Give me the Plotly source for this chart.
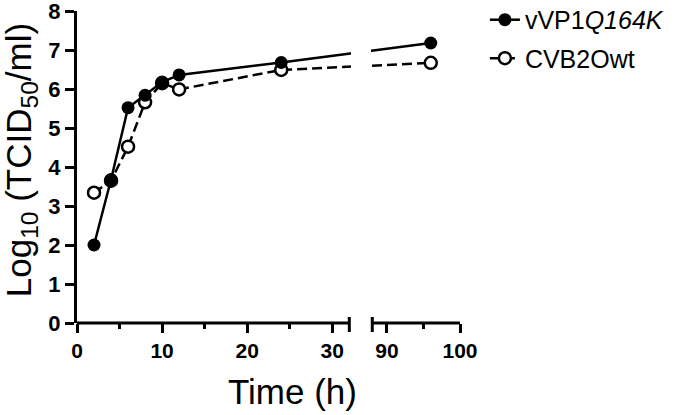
import plotly.graph_objects as go

# ---- data (hours, log10 TCID50/ml) ----
time_h = [2, 4, 6, 8, 10, 12, 24, 96]
mutant = [2.0, 3.68, 5.52, 5.84, 6.18, 6.36, 6.68, 7.18]
wildtype = [3.34, 3.65, 4.52, 5.66, 6.15, 5.99, 6.49, 6.67]
mutant_name = "vVP1<i>Q164K</i>"
wt_name = "CVB2Owt"
major_ticks = [0, 10, 20, 30, 90, 100]
minor_ticks = [5, 15, 25, 95]
y_ticks = list(range(0, 9))

# ---- broken axis mapping ----
SEG1_END = 32.0
SEG2_START = 88.0
SEG2_VIS = 34.7      # visual position where second segment starts
SEG2_SCALE = 0.859   # visual units per hour in second segment
X_MAX_VIS = SEG2_VIS + (100 - SEG2_START) * SEG2_SCALE


def xv(t):
    if t <= SEG1_END:
        return t
    return SEG2_VIS + (t - SEG2_START) * SEG2_SCALE


FONT = "Liberation Sans, Arial, sans-serif"

fig = go.Figure()
fig.add_trace(go.Scatter(
    x=[xv(t) for t in time_h], y=wildtype, name=wt_name, mode="lines+markers",
    line=dict(color="black", width=2.5, dash="10px,5px"),
    marker=dict(symbol="circle", size=12, color="white", line=dict(color="black", width=2.5)),
    cliponaxis=False, legendrank=2, legendgroup="wt"))
fig.add_trace(go.Scatter(
    x=[xv(t) for t in time_h], y=mutant, name=mutant_name, mode="lines+markers",
    line=dict(color="black", width=2.5),
    marker=dict(symbol="circle", size=13, color="black"),
    cliponaxis=False, legendrank=1, legendgroup="mut"))

shapes = []
# mask the gap of the break
shapes.append(dict(type="rect", xref="x", yref="paper", x0=SEG1_END + 0.2, x1=SEG2_VIS - 0.15,
                   y0=-0.01, y1=1.05, fillcolor="white", line=dict(width=0), layer="above"))
# x axis segments
for a, b in [(0, SEG1_END), (SEG2_VIS, X_MAX_VIS)]:
    shapes.append(dict(type="line", xref="x", yref="paper", x0=a, x1=b, y0=0, y1=0,
                       line=dict(color="black", width=3), layer="above"))
# caps at the break
for xc in [SEG1_END, SEG2_VIS]:
    shapes.append(dict(type="line", xref="x", yref="paper", ysizemode="pixel", yanchor=0,
                       x0=xc, x1=xc, y0=-9, y1=6, line=dict(color="black", width=3), layer="above"))

fig.update_layout(
    width=700, height=415,
    margin=dict(l=77, r=240, t=11, b=92, autoexpand=False),
    paper_bgcolor="white", plot_bgcolor="white",
    font=dict(family=FONT, color="black"),
    shapes=shapes,
    showlegend=True,
    legend=dict(x=1.065, y=1.045, xanchor="left", yanchor="top",
                font=dict(size=25, family=FONT, color="black"),
                bgcolor="rgba(0,0,0,0)", tracegroupgap=3),
    xaxis=dict(range=[0, X_MAX_VIS], showgrid=False, zeroline=False, showline=False,
               tickmode="array", tickvals=[xv(t) for t in major_ticks],
               ticktext=[str(t) for t in major_ticks],
               ticks="outside", ticklen=9, tickwidth=3, tickcolor="black",
               ticklabeloverflow="allow",
               tickfont=dict(size=21, family=FONT, weight="bold"),
               minor=dict(tickmode="array", tickvals=[xv(t) for t in minor_ticks],
                          ticks="outside", ticklen=5, tickwidth=3, tickcolor="black", showgrid=False)),
    yaxis=dict(range=[0, 8], showgrid=False, zeroline=False, showline=True, linewidth=3,
               linecolor="black", tickmode="array", tickvals=y_ticks,
               ticks="outside", ticklen=9, tickwidth=3, tickcolor="black",
               ticklabeloverflow="allow",
               tickfont=dict(size=22, family=FONT, weight="bold")),
    annotations=[
        dict(text="Time (h)", xref="paper", yref="paper", x=0.563, y=-0.218,
             xanchor="center", yanchor="middle", showarrow=False,
             font=dict(size=35, family=FONT, color="black")),
        dict(text="Log<sub>10</sub> (TCID<sub>50</sub>/ml)", xref="paper", yref="paper",
             x=-0.146, y=0.522, xanchor="center", yanchor="middle", textangle=-90,
             showarrow=False, font=dict(size=35, family=FONT, color="black")),
    ],
)

fig.write_html("out.html", config={"displayModeBar": False},
               post_script="document.body.style.margin='0px';")
